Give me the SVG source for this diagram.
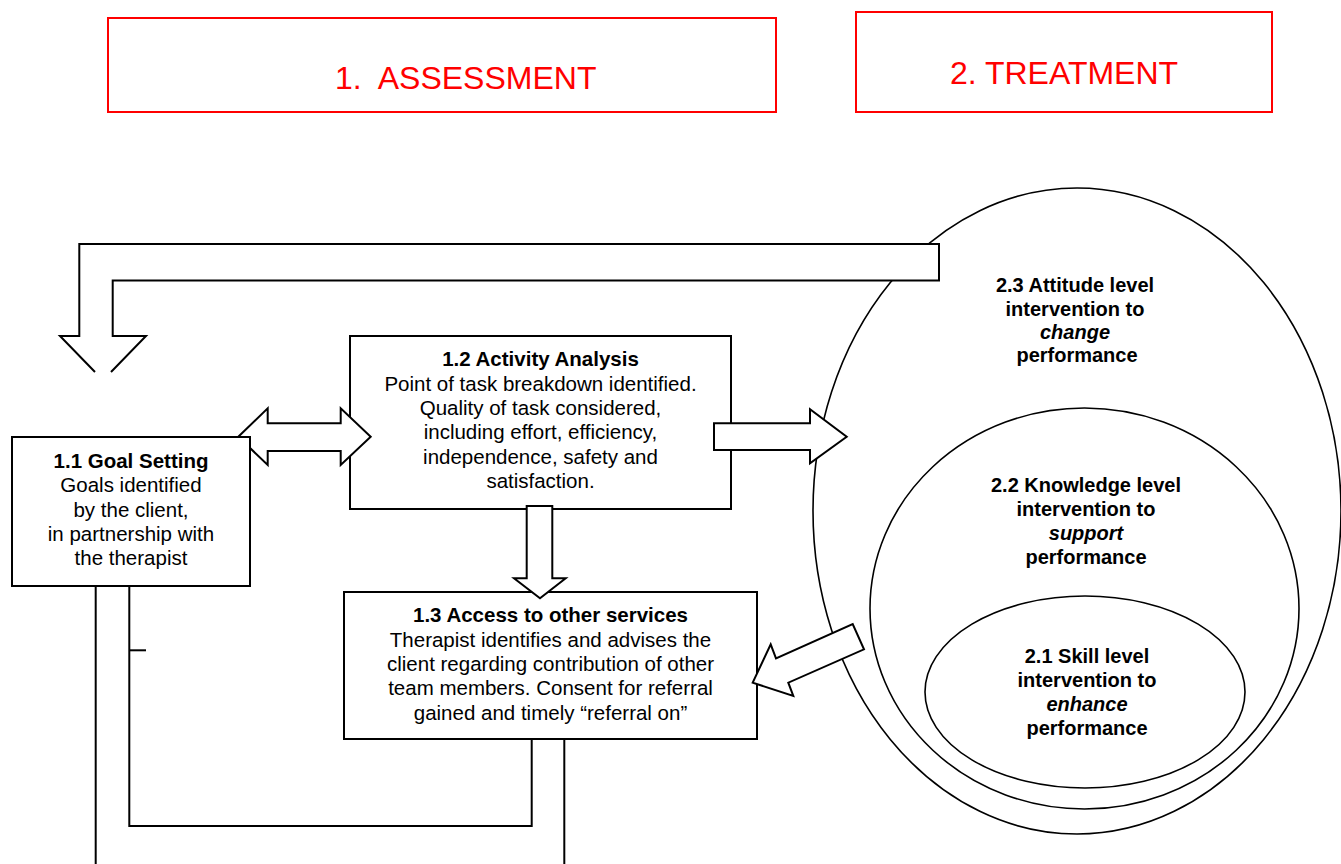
<svg xmlns="http://www.w3.org/2000/svg" width="1341" height="864" viewBox="0 0 1341 864">
<style>
.hdr{fill:#fff;stroke:#ff0000;stroke-width:2}
.hdrt{font-family:"Liberation Sans",Arial,sans-serif;font-size:32px;fill:#ff0000}
.box{fill:#fff;stroke:#000;stroke-width:2}
.t{font-family:"Liberation Sans",Arial,sans-serif;font-size:20.5px;fill:#000;text-anchor:middle}
.b{font-weight:bold}
.ct{font-family:"Liberation Sans",Arial,sans-serif;font-size:20px;font-weight:bold;fill:#000;text-anchor:middle}
.i{font-style:italic}
.ell{fill:none;stroke:#000;stroke-width:1.6}
.arr{fill:#fff;stroke:#000;stroke-width:2;stroke-linejoin:miter}
.ln{fill:none;stroke:#000;stroke-width:2}
</style>
<rect width="1341" height="864" fill="#fff"/>
<g id="header-assessment">
<rect class="hdr" x="108" y="18" width="668" height="94"/>
<text class="hdrt" x="335" y="89" xml:space="preserve">1.  ASSESSMENT</text>
</g>
<g id="header-treatment">
<rect class="hdr" x="856" y="12" width="416" height="100"/>
<text class="hdrt" x="1064" y="84" text-anchor="middle">2. TREATMENT</text>
</g>
<g id="n23">
<ellipse class="ell" cx="1077" cy="511" rx="264" ry="323"/>
<text class="ct" x="1075" y="291.7">2.3 Attitude level</text>
<text class="ct" x="1075" y="315.7">intervention to</text>
<text class="ct i" x="1075" y="338.5">change</text>
<text class="ct" x="1077" y="361.7">performance</text>
</g>
<g id="n22">
<ellipse class="ell" cx="1084.5" cy="608.5" rx="214.5" ry="200.5"/>
<text class="ct" x="1086" y="491.7">2.2 Knowledge level</text>
<text class="ct" x="1086" y="515.7">intervention to</text>
<text class="ct i" x="1086" y="540">support</text>
<text class="ct" x="1086" y="564">performance</text>
</g>
<g id="n21">
<ellipse class="ell" cx="1085" cy="692" rx="160" ry="96"/>
<text class="ct" x="1087" y="663">2.1 Skill level</text>
<text class="ct" x="1087" y="687">intervention to</text>
<text class="ct i" x="1087" y="711">enhance</text>
<text class="ct" x="1087" y="735">performance</text>
</g>
<g id="n12">
<rect class="box" x="350" y="336" width="381" height="173"/>
<text class="t b" x="540.5" y="366">1.2 Activity Analysis</text>
<text class="t" x="540.5" y="390.5">Point of task breakdown identified.</text>
<text class="t" x="540.5" y="415">Quality of task considered,</text>
<text class="t" x="540.5" y="439.4">including effort, efficiency,</text>
<text class="t" x="540.5" y="463.8">independence, safety and</text>
<text class="t" x="540.5" y="488.3">satisfaction.</text>
</g>
<g id="n13">
<rect class="box" x="344" y="592" width="413" height="147"/>
<text class="t b" x="550.5" y="622.3">1.3 Access to other services</text>
<text class="t" x="550.5" y="646.7">Therapist identifies and advises the</text>
<text class="t" x="550.5" y="671">client regarding contribution of other</text>
<text class="t" x="550.5" y="695.3">team members. Consent for referral</text>
<text class="t" x="550.5" y="719.5">gained and timely “referral on”</text>
</g>
<g id="connectors">
<path class="arr" d="M95,372 L60,336 L79.3,336 L79.3,244 L939,244 L939,280.5 L112.7,280.5 L112.7,336 L146,336 L111,372"/>
<path class="ln" d="M95.7,586 V864"/>
<path class="ln" d="M129.3,586 V826 H531.7 V739"/>
<path class="ln" d="M129.3,650.3 H146"/>
<path class="ln" d="M564.3,739 V864"/>
<path class="arr" d="M238.3,436.7 L267.7,408.3 L267.7,423.3 L340.7,423.3 L340.7,408.3 L370.7,436.7 L340.7,465 L340.7,451 L267.7,451 L267.7,465 Z"/>
<path class="arr" d="M526.7,506 L552.3,506 L552.3,578.3 L565.7,578.3 L540,598.3 L514,578.3 L526.7,578.3 Z"/>
<path class="arr" d="M714,423.3 L810,423.3 L810,409.3 L846.7,436.7 L810,463.3 L810,450 L714,450 Z"/>
<path class="arr" d="M752.7,682.7 L770.7,644.3 L776,658.3 L852.7,624 L864,649.3 L788.3,682.7 L793.3,696 Z"/>
</g>
<g id="n11">
<rect class="box" x="12" y="437" width="238" height="149"/>
<text class="t b" x="131" y="467.7">1.1 Goal Setting</text>
<text class="t" x="131" y="492">Goals identified</text>
<text class="t" x="131" y="516.5">by the client,</text>
<text class="t" x="131" y="541">in partnership with</text>
<text class="t" x="131" y="565.4">the therapist</text>
</g>
</svg>
